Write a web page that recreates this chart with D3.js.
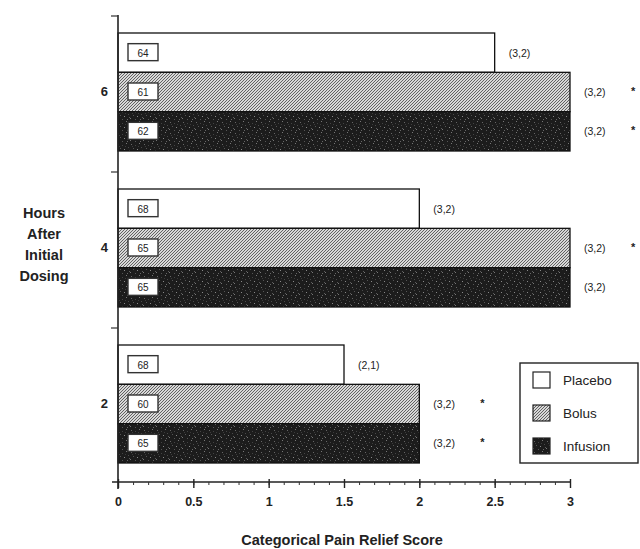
<!DOCTYPE html>
<html><head><meta charset="utf-8">
<script src="https://cdn.jsdelivr.net/npm/d3@7"></script>
<style>
html,body{margin:0;padding:0;background:#fff;}
svg{display:block;}
text{font-family:"Liberation Sans",Arial,Helvetica,sans-serif;fill:#222;}
</style></head>
<body>
<script>
const hours = ["6", "4", "2"];
const series = ["Placebo", "Bolus", "Infusion"];
const medians = {
  Placebo:  [2.5, 2, 1.5],
  Bolus:    [3, 3, 2],
  Infusion: [3, 3, 2]
};
const nLabels = {
  Placebo:  ["64", "68", "68"],
  Bolus:    ["61", "65", "60"],
  Infusion: ["62", "65", "65"]
};
const iqrLabels = {
  Placebo:  ["(3,2)", "(3,2)", "(2,1)"],
  Bolus:    ["(3,2)", "(3,2)", "(3,2)"],
  Infusion: ["(3,2)", "(3,2)", "(3,2)"]
};
const signif = {
  Placebo:  [false, false, false],
  Bolus:    [true, true, true],
  Infusion: [true, false, true]
};
const xTicks = [0, 0.5, 1, 1.5, 2, 2.5, 3];
const xTickLabels = ["0", "0.5", "1", "1.5", "2", "2.5", "3"];

const W = 640, H = 549;
const svg = d3.select("body").append("svg").attr("width", W).attr("height", H);

const defs = svg.append("defs");
// Bolus: diagonal hatch
const hatch = defs.append("pattern").attr("id","hatch").attr("patternUnits","userSpaceOnUse")
  .attr("width",3).attr("height",3);
hatch.append("rect").attr("width",3).attr("height",3).attr("fill","#d8d8d8");
hatch.append("path").attr("d","M-1,1 l2,-2 M0,3 l3,-3 M2,4 l2,-2").attr("stroke","#555").attr("stroke-width",0.9);
// Infusion: dark speckle
const speck = defs.append("pattern").attr("id","speck").attr("patternUnits","userSpaceOnUse")
  .attr("width",13).attr("height",11);
speck.append("rect").attr("width",13).attr("height",11).attr("fill","#1c1c1c");
const dots = [[1,1,"#666"],[5,2,"#444"],[9,0,"#777"],[3,5,"#555"],[7,6,"#888"],[11,4,"#4a4a4a"],[0,8,"#777"],[5,9,"#555"],[10,9,"#666"],[8,3,"#3a3a3a"],[2,3,"#3c3c3c"],[12,7,"#5a5a5a"]];
dots.forEach(d => speck.append("rect").attr("x",d[0]).attr("y",d[1]).attr("width",1).attr("height",1).attr("fill",d[2]));

const fills = {Placebo:"#fff", Bolus:"url(#hatch)", Infusion:"url(#speck)"};

const x = d3.scaleLinear().domain([0,3]).range([118,570]);
const y = d3.scaleBand().domain(hours).range([16,484]).padding(0);
const yInner = d3.scaleBand().domain(series).range([17,135]).padding(0);

// bars
hours.forEach((h,i) => {
  series.forEach(s => {
    const v = medians[s][i];
    const y0 = y(h) + yInner(s);
    const bh = yInner.bandwidth();
    svg.append("rect").attr("x", x(0)).attr("y", y0).attr("width", x(v)-x(0)).attr("height", bh)
      .attr("fill", fills[s]).attr("stroke","#111").attr("stroke-width",1.3);
    // n label box
    const cy = y0 + bh/2;
    svg.append("rect").attr("x", 128).attr("y", cy-9).attr("width", 30).attr("height", 17)
      .attr("fill","#fff").attr("stroke","#333").attr("stroke-width",1.4);
    svg.append("text").attr("x", 143).attr("y", cy+4).attr("text-anchor","middle")
      .attr("font-size",10).attr("fill","#333").text(nLabels[s][i]);
    // IQR annotation
    svg.append("text").attr("x", x(v)+14).attr("y", cy+4).attr("font-size",10.5).attr("fill","#333")
      .text(iqrLabels[s][i]);
    if (signif[s][i]) {
      svg.append("text").attr("x", x(v)+61).attr("y", cy+3).attr("font-size",11).attr("font-weight","bold")
        .attr("fill","#333").text("*");
    }
  });
});

// x axis
const xAxis = d3.axisBottom(x).tickValues(d3.range(0,31).map(d=>d/10)).tickSize(3).tickFormat("");
const gx = svg.append("g").attr("transform","translate(0,482)").call(xAxis);
gx.select(".domain").attr("d","M112,0H570").attr("stroke","#222").attr("stroke-width",1.6);
gx.selectAll(".tick line").attr("stroke","#333").attr("stroke-width",1);
const gxMaj = svg.append("g").attr("transform","translate(0,482)")
  .call(d3.axisBottom(x).tickValues(xTicks).tickSize(6).tickFormat((d,i)=>xTickLabels[i]));
gxMaj.select(".domain").remove();
gxMaj.selectAll(".tick line").attr("stroke","#222").attr("stroke-width",1.4).attr("y1",-3);
gxMaj.selectAll(".tick text").attr("y",15).attr("font-size",12.5).attr("font-weight","bold")
  .attr("font-family","Liberation Sans, Arial, sans-serif").attr("fill","#333");

// y axis
const gy = svg.append("g").attr("transform","translate(118,0)")
  .call(d3.axisLeft(y).tickValues(hours).tickSize(0).tickPadding(10));
gy.select(".domain").remove();
gy.selectAll(".tick text").attr("font-size",13).attr("font-weight","bold")
  .attr("font-family","Liberation Sans, Arial, sans-serif").attr("fill","#222").attr("dy","0.15em");
svg.append("line").attr("x1",118).attr("x2",118).attr("y1",15).attr("y2",489)
  .attr("stroke","#222").attr("stroke-width",1.6);
[16, y("4"), y("2")].forEach(t => {
  svg.append("line").attr("x1",111).attr("x2",118).attr("y1",t).attr("y2",t)
    .attr("stroke","#333").attr("stroke-width",1.2);
});

// y title
const yTitle = ["Hours","After","Initial","Dosing"];
yTitle.forEach((t,i) => {
  svg.append("text").attr("x",44).attr("y",218+i*21).attr("text-anchor","middle")
    .attr("font-size",14.5).attr("font-weight","bold").attr("fill","#333").text(t);
});

// x title
svg.append("text").attr("x",342).attr("y",545).attr("text-anchor","middle")
  .attr("font-size",14.5).attr("font-weight","bold").attr("fill","#111").text("Categorical Pain Relief Score");

// legend
const lg = svg.append("g");
lg.append("rect").attr("x",520).attr("y",363).attr("width",118).attr("height",100)
  .attr("fill","#fff").attr("stroke","#222").attr("stroke-width",1.4);
series.forEach((s,i) => {
  const yy = 372 + i*33;
  lg.append("rect").attr("x",533).attr("y",yy).attr("width",17).attr("height",16)
    .attr("fill",fills[s]).attr("stroke","#222").attr("stroke-width",1.2);
  lg.append("text").attr("x",563).attr("y",yy+13).attr("font-size",13.5).attr("fill","#333").text(s);
});
</script>
</body></html>
